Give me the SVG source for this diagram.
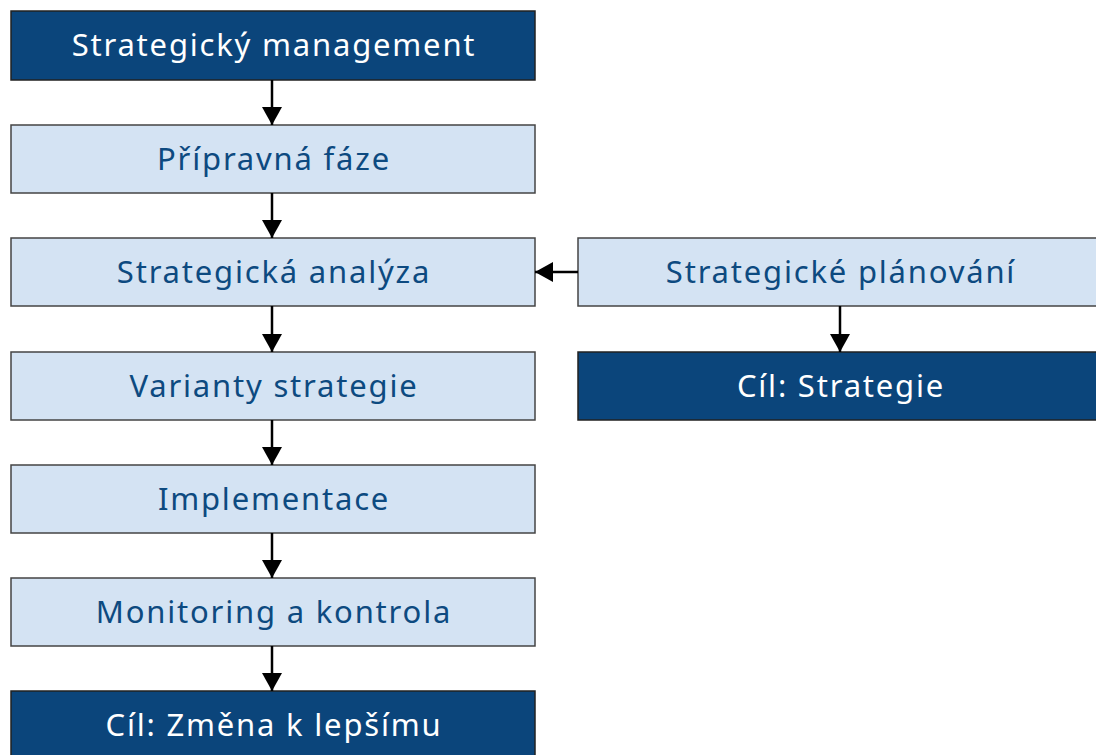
<svg xmlns="http://www.w3.org/2000/svg" width="1096" height="755" viewBox="0 0 1096 755">
<defs>
<style>
.dark{fill:#0b457b;stroke:#222;stroke-width:1.5}
.light{fill:#d4e3f3;stroke:#444;stroke-width:1.5}
.tl{font-family:"Noto Sans","Open Sans",sans-serif;font-size:31px;fill:#ffffff;text-anchor:middle;letter-spacing:1.8px}
.td{font-family:"Noto Sans","Open Sans",sans-serif;font-size:31px;fill:#0d4a80;text-anchor:middle;letter-spacing:1.8px}
.c{stroke:#000;stroke-width:2.5;fill:none}
</style>
<marker id="ah" viewBox="0 0 18 20" refX="18" refY="10" markerWidth="18" markerHeight="20" markerUnits="userSpaceOnUse" orient="auto">
<path d="M0,0 L18,10 L0,20 z" fill="#000"/>
</marker>
</defs>
<rect width="1096" height="755" fill="#fff"/>
<g id="n1"><rect class="dark" x="11" y="11" width="524" height="69"/><text class="tl" x="274" y="56">Strategický management</text></g>
<g id="n2"><rect class="light" x="11" y="125" width="524" height="68"/><text class="td" x="274" y="170">Přípravná fáze</text></g>
<g id="n3"><rect class="light" x="11" y="238" width="524" height="68"/><text class="td" x="274" y="283">Strategická analýza</text></g>
<g id="n4"><rect class="light" x="11" y="352" width="524" height="68"/><text class="td" x="274" y="397">Varianty strategie</text></g>
<g id="n5"><rect class="light" x="11" y="465" width="524" height="68"/><text class="td" x="274" y="510">Implementace</text></g>
<g id="n6"><rect class="light" x="11" y="578" width="524" height="68"/><text class="td" x="274" y="623">Monitoring a kontrola</text></g>
<g id="n7"><rect class="dark" x="11" y="691" width="524" height="69"/><text class="tl" x="274" y="736">Cíl: Změna k lepšímu</text></g>
<g id="n8"><rect class="light" x="578" y="238" width="524" height="68"/><text class="td" x="841" y="283">Strategické plánování</text></g>
<g id="n9"><rect class="dark" x="578" y="352" width="524" height="68"/><text class="tl" x="841" y="397">Cíl: Strategie</text></g>
<g id="connectors">
<line class="c" x1="272" y1="80" x2="272" y2="125" marker-end="url(#ah)"/>
<line class="c" x1="272" y1="193" x2="272" y2="238" marker-end="url(#ah)"/>
<line class="c" x1="272" y1="306" x2="272" y2="352" marker-end="url(#ah)"/>
<line class="c" x1="272" y1="420" x2="272" y2="465" marker-end="url(#ah)"/>
<line class="c" x1="272" y1="533" x2="272" y2="578" marker-end="url(#ah)"/>
<line class="c" x1="272" y1="646" x2="272" y2="691" marker-end="url(#ah)"/>
<line class="c" x1="578" y1="272" x2="535" y2="272" marker-end="url(#ah)"/>
<line class="c" x1="840" y1="306" x2="840" y2="352" marker-end="url(#ah)"/>
</g>
</svg>
